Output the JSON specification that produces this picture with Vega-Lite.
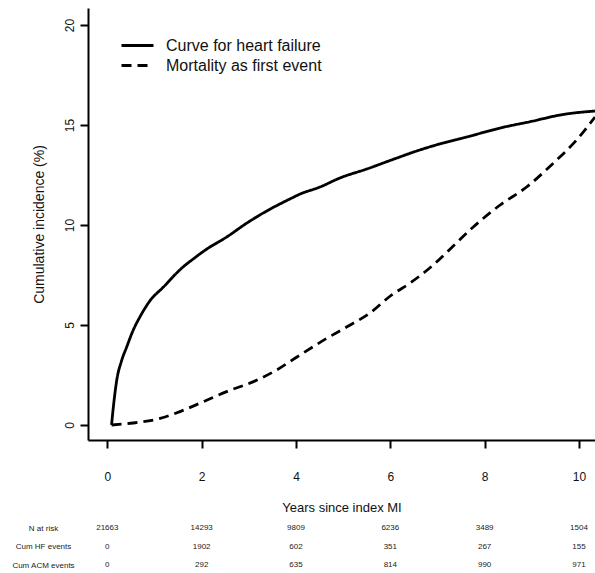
{
  "$schema": "https://vega.github.io/schema/vega-lite/v6.json",
  "width": 507,
  "height": 432,
  "autosize": {"type": "none"},
  "padding": {"left": 88, "top": 8, "right": 0, "bottom": 133},
  "background": "white",
  "config": {
    "view": {"stroke": null},
    "font": "Liberation Sans",
    "axis": {"grid": false, "domainColor": "black", "domainWidth": 2, "tickColor": "black", "tickWidth": 2, "labelColor": "#111", "titleColor": "#111", "labelFont": "Liberation Sans", "titleFont": "Liberation Sans", "titleFontWeight": "normal"}
  },
  "datasets": {
    "curves": [
      {"series": "Curve for heart failure", "year": 0.09, "pct": 0},
      {"series": "Curve for heart failure", "year": 0.11, "pct": 0.5},
      {"series": "Curve for heart failure", "year": 0.13, "pct": 0.95},
      {"series": "Curve for heart failure", "year": 0.2, "pct": 2.25},
      {"series": "Curve for heart failure", "year": 0.3, "pct": 3.2},
      {"series": "Curve for heart failure", "year": 0.41, "pct": 3.9},
      {"series": "Curve for heart failure", "year": 0.55, "pct": 4.75},
      {"series": "Curve for heart failure", "year": 0.69, "pct": 5.4},
      {"series": "Curve for heart failure", "year": 0.9, "pct": 6.2},
      {"series": "Curve for heart failure", "year": 1.19, "pct": 6.9},
      {"series": "Curve for heart failure", "year": 1.58, "pct": 7.85},
      {"series": "Curve for heart failure", "year": 1.82, "pct": 8.3},
      {"series": "Curve for heart failure", "year": 2.11, "pct": 8.8},
      {"series": "Curve for heart failure", "year": 2.53, "pct": 9.4},
      {"series": "Curve for heart failure", "year": 2.96, "pct": 10.1},
      {"series": "Curve for heart failure", "year": 3.38, "pct": 10.7},
      {"series": "Curve for heart failure", "year": 3.87, "pct": 11.3},
      {"series": "Curve for heart failure", "year": 4.09, "pct": 11.55},
      {"series": "Curve for heart failure", "year": 4.51, "pct": 11.9},
      {"series": "Curve for heart failure", "year": 4.93, "pct": 12.35},
      {"series": "Curve for heart failure", "year": 5.5, "pct": 12.8},
      {"series": "Curve for heart failure", "year": 6.14, "pct": 13.35},
      {"series": "Curve for heart failure", "year": 6.56, "pct": 13.7},
      {"series": "Curve for heart failure", "year": 7.12, "pct": 14.1},
      {"series": "Curve for heart failure", "year": 7.62, "pct": 14.4},
      {"series": "Curve for heart failure", "year": 8.33, "pct": 14.85},
      {"series": "Curve for heart failure", "year": 9.03, "pct": 15.2},
      {"series": "Curve for heart failure", "year": 9.6, "pct": 15.5},
      {"series": "Curve for heart failure", "year": 10.34, "pct": 15.7},
      {"series": "Mortality as first event", "year": 0.09, "pct": 0},
      {"series": "Mortality as first event", "year": 0.55, "pct": 0.1},
      {"series": "Mortality as first event", "year": 1.12, "pct": 0.33},
      {"series": "Mortality as first event", "year": 1.54, "pct": 0.67},
      {"series": "Mortality as first event", "year": 2.04, "pct": 1.17},
      {"series": "Mortality as first event", "year": 2.53, "pct": 1.67},
      {"series": "Mortality as first event", "year": 3.1, "pct": 2.17},
      {"series": "Mortality as first event", "year": 3.59, "pct": 2.75},
      {"series": "Mortality as first event", "year": 4.02, "pct": 3.4},
      {"series": "Mortality as first event", "year": 4.65, "pct": 4.33},
      {"series": "Mortality as first event", "year": 5.15, "pct": 5.0},
      {"series": "Mortality as first event", "year": 5.57, "pct": 5.6},
      {"series": "Mortality as first event", "year": 6.0, "pct": 6.45},
      {"series": "Mortality as first event", "year": 6.42, "pct": 7.1},
      {"series": "Mortality as first event", "year": 6.91, "pct": 8.0},
      {"series": "Mortality as first event", "year": 7.27, "pct": 8.8},
      {"series": "Mortality as first event", "year": 7.76, "pct": 9.9},
      {"series": "Mortality as first event", "year": 8.33, "pct": 11.0},
      {"series": "Mortality as first event", "year": 8.89, "pct": 11.9},
      {"series": "Mortality as first event", "year": 9.46, "pct": 13.1},
      {"series": "Mortality as first event", "year": 9.95, "pct": 14.25},
      {"series": "Mortality as first event", "year": 10.34, "pct": 15.4}
    ],
    "risk": [
      {"row": "N at risk", "year": 0, "value": "21663"},
      {"row": "N at risk", "year": 2, "value": "14293"},
      {"row": "N at risk", "year": 4, "value": "9809"},
      {"row": "N at risk", "year": 6, "value": "6236"},
      {"row": "N at risk", "year": 8, "value": "3489"},
      {"row": "N at risk", "year": 10, "value": "1504"},
      {"row": "Cum HF events", "year": 0, "value": "0"},
      {"row": "Cum HF events", "year": 2, "value": "1902"},
      {"row": "Cum HF events", "year": 4, "value": "602"},
      {"row": "Cum HF events", "year": 6, "value": "351"},
      {"row": "Cum HF events", "year": 8, "value": "267"},
      {"row": "Cum HF events", "year": 10, "value": "155"},
      {"row": "Cum ACM events", "year": 0, "value": "0"},
      {"row": "Cum ACM events", "year": 2, "value": "292"},
      {"row": "Cum ACM events", "year": 4, "value": "635"},
      {"row": "Cum ACM events", "year": 6, "value": "814"},
      {"row": "Cum ACM events", "year": 8, "value": "990"},
      {"row": "Cum ACM events", "year": 10, "value": "971"}
    ]
  },
  "layer": [
    {
      "data": {"name": "curves"},
      "mark": {"type": "line", "color": "black", "strokeWidth": 2.8, "clip": true, "interpolate": "monotone"},
      "encoding": {
        "x": {
          "field": "year", "type": "quantitative",
          "scale": {"domain": [-0.41, 10.34], "nice": false, "zero": false},
          "axis": {"values": [0, 2, 4, 6, 8, 10], "title": "Years since index MI", "tickSize": 8, "labelPadding": 23, "labelFontSize": 12, "titleFontSize": 13, "titlePadding": 19, "labelFlush": false}
        },
        "y": {
          "field": "pct", "type": "quantitative",
          "scale": {"domain": [-0.75, 20.85], "nice": false, "zero": false},
          "axis": {"values": [0, 5, 10, 15, 20], "title": "Cumulative incidence (%)", "tickSize": 8, "labelAngle": 270, "labelAlign": "center", "labelBaseline": "bottom", "labelPadding": 4, "labelFontSize": 12, "titleFontSize": 14, "titlePadding": 17, "orient": "left", "labelFlush": false}
        },
        "strokeDash": {
          "field": "series", "type": "nominal",
          "scale": {"domain": ["Curve for heart failure", "Mortality as first event"], "range": [[1, 0], [10, 6]]},
          "legend": {"title": null, "orient": "none", "legendX": 38, "legendY": 26, "symbolType": "M-1.6,0H1.6", "symbolSize": 400, "symbolStrokeWidth": 2.8, "symbolStrokeColor": "black", "labelFontSize": 16, "labelColor": "#111", "labelOffset": 17, "rowPadding": 0, "padding": 0, "labelLimit": 400}
        }
      }
    },
    {
      "data": {"name": "risk"},
      "mark": {"type": "text", "fontSize": 8, "color": "#222"},
      "encoding": {
        "x": {"field": "year", "type": "quantitative"},
        "y": {
          "field": "row", "type": "nominal",
          "scale": {"domain": ["N at risk", "Cum HF events", "Cum ACM events"], "range": [520, 557], "padding": 0},
          "axis": {"orient": "left", "title": null, "domain": false, "ticks": false, "labelAlign": "center", "labelPadding": 45, "labelFontSize": 8, "labelColor": "#222"}
        },
        "text": {"field": "value"}
      }
    }
  ],
  "resolve": {"scale": {"y": "independent"}, "axis": {"y": "independent"}}
}
